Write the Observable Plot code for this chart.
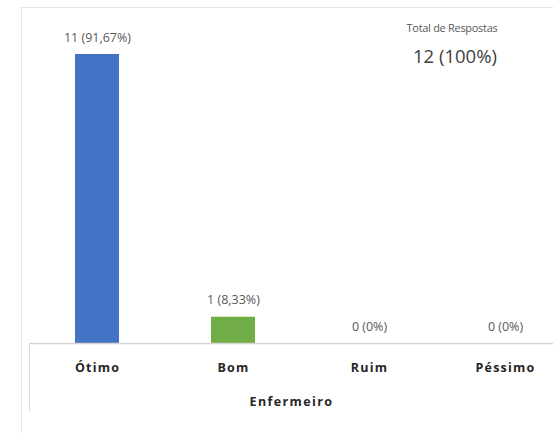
<!DOCTYPE html>
<html>
<head>
<meta charset="utf-8">
<script src="https://cdn.jsdelivr.net/npm/d3@7"></script>
<script src="https://cdn.jsdelivr.net/npm/@observablehq/plot@0.6"></script>
<style>
  html, body { margin: 0; padding: 0; background: #fff; }
  #wrap { position: relative; width: 553px; height: 433px; overflow: hidden; font-family: "Open Sans", "Liberation Sans", sans-serif; }
  #outer { position: absolute; left: 21px; top: 7px; width: 600px; height: 500px; border-left: 1.5px solid #e3e3e3; border-top: 1.5px solid #e3e3e3; }
  #inner { position: absolute; left: 29px; top: 343px; width: 1px; height: 69px; background: #dcdcdc; }
  #chart { position: absolute; left: 0; top: 0; }
  .tot1 { position: absolute; left: 352px; width: 200px; top: 20px; text-align: center; font-size: 11px; color: #595959; letter-spacing: -0.3px; }
  .tot2 { position: absolute; left: 355px; width: 200px; top: 43px; text-align: center; font-size: 18.5px; color: #404040; }
</style>
</head>
<body>
<div id="wrap">
  <div id="outer"></div>
  <div id="inner"></div>
  <div id="chart"></div>
  <div class="tot1" id="t1"></div>
  <div class="tot2" id="t2"></div>
</div>
<script>
const categories = ["Ótimo", "Bom", "Ruim", "Péssimo"];
const counts = [11, 1, 0, 0];
const percents = ["91,67%", "8,33%", "0%", "0%"];
const colors = ["#4472C4", "#70AD47", "#A5A5A5", "#FFC000"];
const axisTitle = "Enfermeiro";
const totalTitle = "Total de Respostas";
const totalValue = "12 (100%)";

const data = categories.map((c, i) => ({
  cat: c, n: counts[i], label: `${counts[i]} (${percents[i]})`, color: colors[i]
}));

const chart = Plot.plot({
  width: 553,
  height: 433,
  marginLeft: 29,
  marginRight: 0,
  marginTop: 54,
  marginBottom: 90,
  style: { background: "transparent", fontFamily: "'Open Sans', 'Liberation Sans', sans-serif" },
  x: { domain: categories, range: [29, 573], paddingInner: 0.68, paddingOuter: 0.34, label: axisTitle },
  y: { domain: [0, 11], range: [343, 54], axis: null },
  marks: [
    Plot.barY(data, { x: "cat", y: "n", fill: "color", style: "filter: drop-shadow(2px 1px 1.5px rgba(0,0,0,0.3))" }),
    Plot.ruleY([0], { stroke: "#d6d6d6", strokeWidth: 1.5 }),
    Plot.text(data, { x: "cat", y: "n", text: "label", dy: -17, fill: "#595959", fontSize: 12.5, style: "letter-spacing: 0.8px" }),
    Plot.axisX({ anchor: "bottom", tickSize: 0, tickPadding: 20, fontSize: 12.5, fontWeight: "bold", fill: "#262626",
      label: axisTitle, labelAnchor: "center", labelOffset: 62, labelArrow: "none" })
  ]
});
document.getElementById("chart").appendChild(chart);
d3.select(chart).selectAll("[aria-label='x-axis tick label'] text").style("letter-spacing", "1.2px");
d3.select(chart).selectAll("[aria-label='x-axis label'] text").style("font-weight", "bold").style("fill", "#262626").style("font-size", "12.5px").style("letter-spacing", "1.4px");
document.getElementById("t1").textContent = totalTitle;
document.getElementById("t2").textContent = totalValue;
</script>
</body>
</html>
